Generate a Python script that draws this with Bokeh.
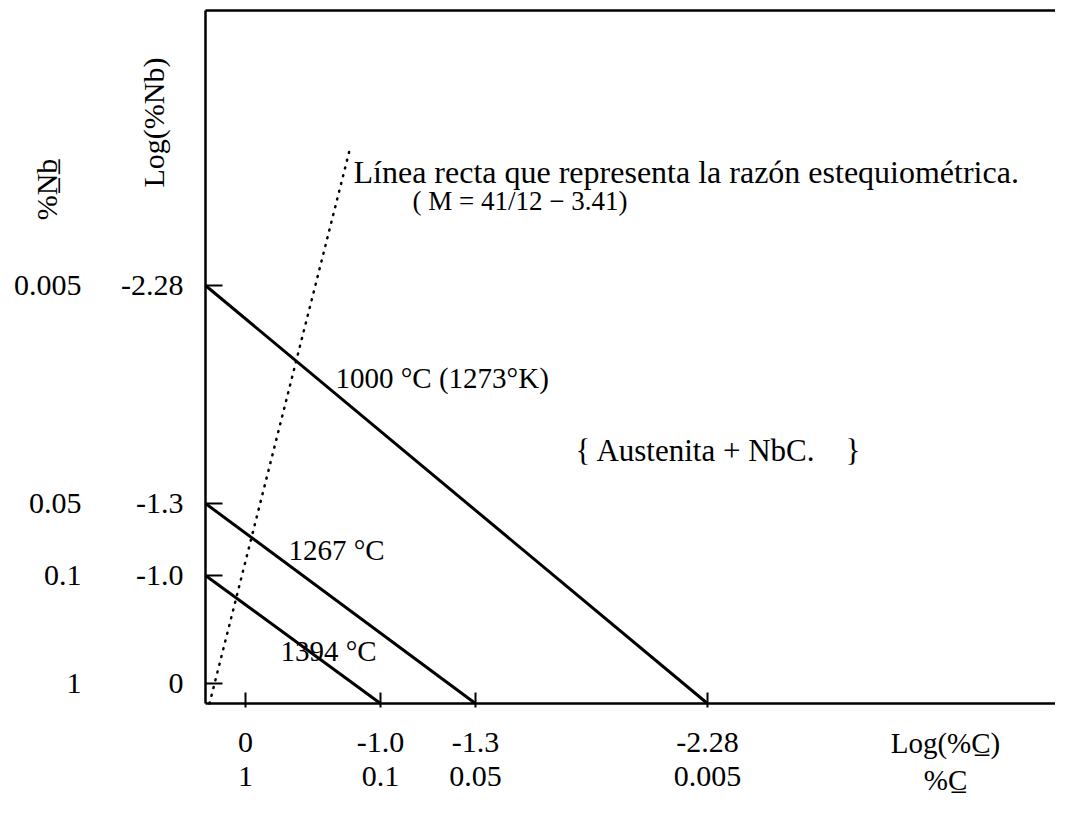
import numpy as np
from bokeh.plotting import figure
from bokeh.models import LinearAxis, FixedTicker, Range1d, Label
from bokeh.embed import file_html
from bokeh.resources import INLINE

# ---------------- data (schematic diagram, not to scale) ----------------
# Log(%C) axis: labels and their schematic positions along the axis
c_log_labels = ["0", "-1.0", "-1.3", "-2.28"]
c_pct_labels = ["1", "0.1", "0.05", "0.005"]
c_tick_pos = [0.40, 1.75, 2.70, 5.02]

# Log(%Nb) axis: labels and their schematic positions along the axis
nb_log_labels = ["0", "-1.0", "-1.3", "-2.28"]
nb_pct_labels = ["1", "0.1", "0.05", "0.005"]
nb_tick_pos = [0.20, 1.28, 2.00, 4.18]

# Solubility lines: each joins the Nb intercept with the C intercept of the same tick index
line_temps = ["1394 °C", "1267 °C", "1000 °C (1273°K)"]
line_tick_idx = [1, 2, 3]

# Stoichiometric ratio line (schematic)
stoich_x = [0.04, 1.44]
stoich_y = [0.0, 5.53]

# diagram box
x_left, x_right = -2.05, 8.50
y_bottom, y_top = -0.97, 7.03
box_top = 6.93

FONT = "Liberation Serif"
TICK_FS = "30px"

p = figure(width=1055, height=800,
           x_range=Range1d(x_left, x_right), y_range=Range1d(y_bottom, y_top),
           x_axis_type=None, y_axis_type=None,
           output_backend="svg", toolbar_location=None, min_border=0)
p.outline_line_color = None
p.background_fill_color = "white"
p.border_fill_color = "white"


def style(ax, visible_line=True):
    ax.major_label_text_font = FONT
    ax.major_label_text_font_size = TICK_FS
    ax.major_label_text_color = "black"
    ax.minor_tick_line_color = None
    if visible_line:
        ax.axis_line_color = "black"
        ax.axis_line_width = 2.5
        ax.major_tick_line_color = "black"
        ax.major_tick_line_width = 2
    else:
        ax.axis_line_color = None
        ax.major_tick_line_color = None
        ax.major_tick_in = 0
        ax.major_tick_out = 0
    return ax


# bottom axes (drawn at y = 0)
ax_c1 = style(LinearAxis(ticker=FixedTicker(ticks=c_tick_pos),
                         major_label_overrides={t: l for t, l in zip(c_tick_pos, c_log_labels)},
                         fixed_location=0, bounds=(0, x_right)))
ax_c1.major_tick_in = 11
ax_c1.major_tick_out = 4
ax_c1.major_label_standoff = 25
p.add_layout(ax_c1, "below")

ax_c2 = style(LinearAxis(ticker=FixedTicker(ticks=c_tick_pos),
                         major_label_overrides={t: l for t, l in zip(c_tick_pos, c_pct_labels)},
                         fixed_location=0), visible_line=False)
ax_c2.major_label_standoff = 63
p.add_layout(ax_c2, "below")

# left axes (drawn at x = 0)
ax_n1 = style(LinearAxis(ticker=FixedTicker(ticks=nb_tick_pos),
                         major_label_overrides={t: l for t, l in zip(nb_tick_pos, nb_log_labels)},
                         fixed_location=0, bounds=(0, box_top)))
ax_n1.major_tick_in = 17
ax_n1.major_tick_out = 0
ax_n1.major_label_standoff = 22
p.add_layout(ax_n1, "left")

ax_n2 = style(LinearAxis(ticker=FixedTicker(ticks=nb_tick_pos),
                         major_label_overrides={t: l for t, l in zip(nb_tick_pos, nb_pct_labels)},
                         fixed_location=0), visible_line=False)
ax_n2.major_label_standoff = 124
p.add_layout(ax_n2, "left")

# top border line of the diagram
ax_top = LinearAxis(ticker=FixedTicker(ticks=[]), fixed_location=box_top, bounds=(0, x_right))
ax_top.axis_line_width = 2.5
ax_top.axis_line_color = "black"
ax_top.major_tick_line_color = None
ax_top.minor_tick_line_color = None
ax_top.major_label_text_font_size = "0px"
p.add_layout(ax_top, "above")

# solubility lines
x0 = [0.0 for _ in line_tick_idx]
y0 = [nb_tick_pos[i] for i in line_tick_idx]
x1 = [c_tick_pos[i] for i in line_tick_idx]
y1 = [0.0 for _ in line_tick_idx]
p.segment(x0=x0, y0=y0, x1=x1, y1=y1, line_color="black", line_width=3)

# stoichiometric dotted line
p.line(stoich_x, stoich_y, line_color="black", line_width=2.5,
       line_dash="1 7", line_cap="round")


def label(x, y, text, size="29px", align="left", angle=0.0):
    p.add_layout(Label(x=x, y=y, text=text, text_font=FONT, text_font_size=size,
                       text_color="black", text_align=align, text_baseline="middle",
                       angle=angle))


# temperature labels
temp_label_pos = [(0.75, 0.53), (0.83, 1.54), (1.30, 3.26)]
for (tx, ty), t in zip(temp_label_pos, line_temps):
    label(tx, ty, t)

label(1.48, 5.32, "Línea recta que representa la razón estequiométrica.", size="32px")
label(2.07, 5.03, "( M = 41/12 − 3.41)", size="27px")
label(3.70, 2.53, "{ Austenita + NbC.\u00a0\u00a0\u00a0\u00a0}", size="31px")

# axis titles
label(7.40, -0.39, "Log(%C\u0332)", align="center")
label(7.40, -0.76, "%C\u0332", align="center")
label(-0.52, 5.81, "Log(%Nb)", align="center", angle=np.pi / 2, size="30px")
label(-1.59, 5.14, "%N\u0332b\u0332", align="center", angle=np.pi / 2, size="30px")

p.grid.visible = False

open("out.html", "w").write(file_html(p, INLINE))
